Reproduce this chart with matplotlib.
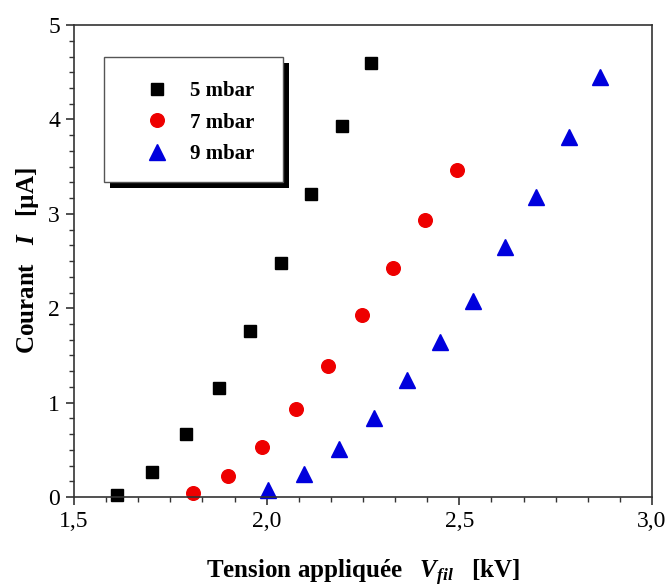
import matplotlib
matplotlib.use('Agg')
import matplotlib.pyplot as plt
from matplotlib.patches import Rectangle
from matplotlib.ticker import MultipleLocator, AutoMinorLocator, FuncFormatter

# tension appliquée (kV) / courant (uA)
v_5 = [1.612, 1.703, 1.790, 1.876, 1.956, 2.036, 2.114, 2.195, 2.272]
i_5 = [0.02, 0.26, 0.67, 1.16, 1.76, 2.48, 3.21, 3.93, 4.60]

v_7 = [1.808, 1.900, 1.988, 2.076, 2.160, 2.248, 2.329, 2.412, 2.494]
i_7 = [0.04, 0.22, 0.53, 0.93, 1.39, 1.93, 2.43, 2.93, 3.46]

v_9 = [2.004, 2.096, 2.187, 2.278, 2.365, 2.449, 2.536, 2.618, 2.699, 2.784, 2.866]
i_9 = [0.07, 0.24, 0.51, 0.84, 1.24, 1.64, 2.08, 2.65, 3.18, 3.81, 4.45]

labels = ['5 mbar', '7 mbar', '9 mbar']

plt.rcParams['font.family'] = 'Liberation Serif'
plt.rcParams['mathtext.fontset'] = 'custom'
plt.rcParams['mathtext.it'] = 'Liberation Serif:italic:bold'
plt.rcParams['mathtext.rm'] = 'Liberation Serif:bold'

fig = plt.figure(figsize=(6.69, 5.87), dpi=100)
ax = fig.add_axes([0.1106, 0.1533, 0.864, 0.804])

ax.plot(v_5, i_5, 's', color='black', markersize=8.5, label=labels[0], clip_on=False)
ax.plot(v_7, i_7, 'o', color='#ee0000', markersize=9.8, label=labels[1], clip_on=False)
ax.plot(v_9, i_9, '^', color='#0000dd', markersize=11.5, label=labels[2], clip_on=False)

ax.set_xlim(1.5, 3.0)
ax.set_ylim(0, 5)
ax.xaxis.set_major_locator(MultipleLocator(0.5))
ax.xaxis.set_minor_locator(AutoMinorLocator(6))
ax.yaxis.set_major_locator(MultipleLocator(1))
ax.yaxis.set_minor_locator(AutoMinorLocator(6))
ax.xaxis.set_major_formatter(FuncFormatter(lambda v, p: f'{v:.1f}'.replace('.', ',')))
ax.tick_params(which='both', direction='out', top=False, right=False,
               labelsize=17, color='#333333')
ax.tick_params(which='major', length=6, width=1.2, pad=4)
ax.tick_params(which='minor', length=3.5, width=1.0)
for s in ax.spines.values():
    s.set_color('#333333')
    s.set_linewidth(1.2)

ax.set_xlabel(r'Tension appliquée   $V_{fil}$   [kV]', fontsize=18,
              fontweight='bold', labelpad=19)
ax.set_ylabel(r'Courant   $I$   [µA]', fontsize=18, fontweight='bold', labelpad=5)

# legend box with a black drop shadow
x0, y0, w, h = 0.052, 0.667, 0.310, 0.265
dx, dy = 6 / 578, 6 / 472
ax.add_patch(Rectangle((x0 + dx, y0 - dy), w, h, transform=ax.transAxes,
                       facecolor='black', edgecolor='none', zorder=4))
ax.add_patch(Rectangle((x0, y0), w, h, transform=ax.transAxes,
                       facecolor='white', edgecolor='#555555', linewidth=1.0, zorder=5))
leg = ax.legend(loc='center', bbox_to_anchor=(x0 + w / 2 + 0.012, y0 + h / 2 - 0.006),
                frameon=False, prop={'weight': 'bold', 'size': 15},
                handlelength=1.0, handletextpad=1.1, labelspacing=0.55,
                numpoints=1)
leg.set_zorder(6)

fig.savefig('out.png', dpi=100)
